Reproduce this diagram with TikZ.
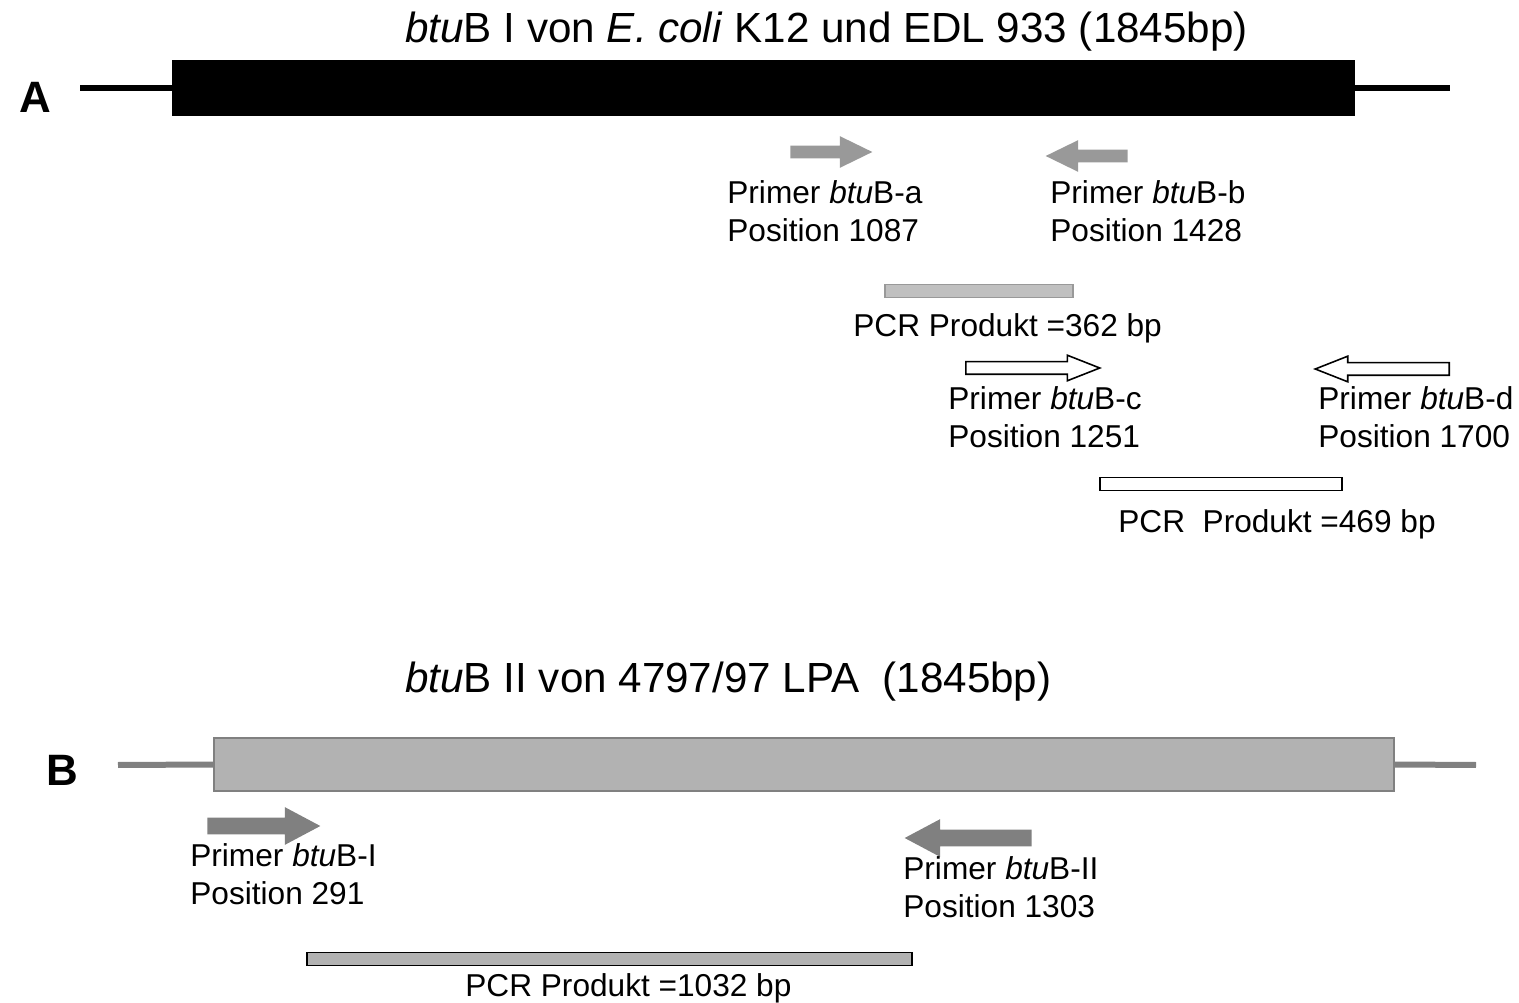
\documentclass[tikz,border=0pt]{standalone}
\usepackage{fontspec}
\setmainfont{Liberation Sans}
\usepackage{tikz}
\usetikzlibrary{shapes.arrows, positioning}
\definecolor{primergray}{HTML}{999999}
\definecolor{darkgray}{HTML}{808080}
\definecolor{boxgray}{HTML}{B2B2B2}
\definecolor{lightgray}{HTML}{C0C0C0}
\tikzset{
  headline/.style={anchor=base west, inner sep=0pt, font=\fontsize{24}{28}\selectfont},
  panel/.style={inner sep=0pt, font=\fontsize{25}{28}\selectfont\bfseries},
  genebox/.style={rectangle, inner sep=0pt, minimum height=1.12cm},
  flank/.style={line width=0.12cm},
  primer/.style={
    single arrow, draw=none, fill=primergray, anchor=tail,
    inner xsep=0pt, inner ysep=0.12cm,
    minimum width=0.62cm, single arrow head extend=0.19cm,
    single arrow tip angle=52, minimum height=1.64cm,
  },
  primerout/.style={
    single arrow, draw=black, fill=white, line width=0.9pt, anchor=tail,
    inner xsep=0pt, inner ysep=0.11cm,
    minimum width=0.48cm, single arrow head extend=0.13cm,
    single arrow tip angle=43, minimum height=2.68cm,
  },
  primerdark/.style={
    single arrow, draw=none, fill=darkgray, anchor=tail,
    inner xsep=0pt, inner ysep=0.16cm,
    minimum width=0.74cm, single arrow head extend=0.21cm,
    single arrow tip angle=56,
  },
  pcrbar/.style={rectangle, inner sep=0pt, minimum height=0.26cm, line width=0.9pt},
  lbl/.style={anchor=north west, inner sep=0pt, align=left, font=\fontsize{18}{21.5}\selectfont},
}
\begin{document}
\begin{tikzpicture}[x=0.02cm, y=-0.02cm]
  \useasboundingbox (0,0) rectangle (1519,1003);

  % --- panel A
  \node[headline] (titleA) at (405,43) {\textit{btu}B I von \textit{E. coli} K12 und EDL 933 (1845bp)};
  \node[panel] (A) at (35,97) {A};
  \node[genebox, fill=black, minimum width=23.66cm] (geneA) at (763.5,88) {};
  \coordinate (geneA-l) at (80,88);
  \coordinate (geneA-r) at (1450,88);
  \draw[flank] (geneA-l) -- (geneA.west);
  \draw[flank] (geneA.east) -- (geneA-r);

  \node[primer] (pa) at (790,152) {};
  \node[primer, shape border rotate=180] (pb) at (1128,156) {};
  \node[lbl] (la) at (727,180) {Primer \textit{btu}B-a\\Position 1087};
  \node[lbl] (lb) at (1050,180) {Primer \textit{btu}B-b\\Position 1428};

  \node[pcrbar, draw=primergray, fill=lightgray, minimum width=3.76cm] (pcr1) at (979,291) {};
  \node[lbl] (lp1) at (853,313) {PCR Produkt =362 bp};

  \node[primerout] (pc) at (965,368) {};
  \node[primerout, shape border rotate=180] (pd) at (1450,369) {};
  \node[lbl] (lc) at (948,386) {Primer \textit{btu}B-c\\Position 1251};
  \node[lbl] (ld) at (1318,386) {Primer \textit{btu}B-d\\Position 1700};

  \node[pcrbar, draw=black, fill=white, minimum width=4.84cm] (pcr2) at (1221,484) {};
  \node[lbl] (lp2) at (1118,509) {PCR\ \ Produkt =469 bp};

  % --- panel B
  \node[headline] (titleB) at (405,692) {\textit{btu}B II von 4797/97 LPA\ \ (1845bp)};
  \node[panel] (B) at (62,770) {B};
  \node[genebox, draw=darkgray, line width=1.2pt, fill=boxgray, minimum width=23.6cm, minimum height=1.06cm] (geneB) at (804,764.5) {};
  \coordinate (geneB-l) at (118,765);
  \coordinate (geneB-r) at (1476,765);
  \draw[flank, darkgray] (geneB-l) -- (geneB.west);
  \draw[flank, darkgray] (geneB.east) -- (geneB-r);

  \node[primerdark, minimum height=2.26cm] (pI) at (207,826) {};
  \node[primerdark, minimum height=2.54cm, shape border rotate=180] (pII) at (1032,838) {};
  \node[lbl] (lI) at (190,843) {Primer \textit{btu}B-I\\Position 291};
  \node[lbl] (lII) at (903,856) {Primer \textit{btu}B-II\\Position 1303};

  \node[pcrbar, draw=black, fill=boxgray, minimum width=12.1cm] (pcr3) at (609.5,959) {};
  \node[lbl] (lp3) at (465,973) {PCR Produkt =1032 bp};
\end{tikzpicture}
\end{document}
